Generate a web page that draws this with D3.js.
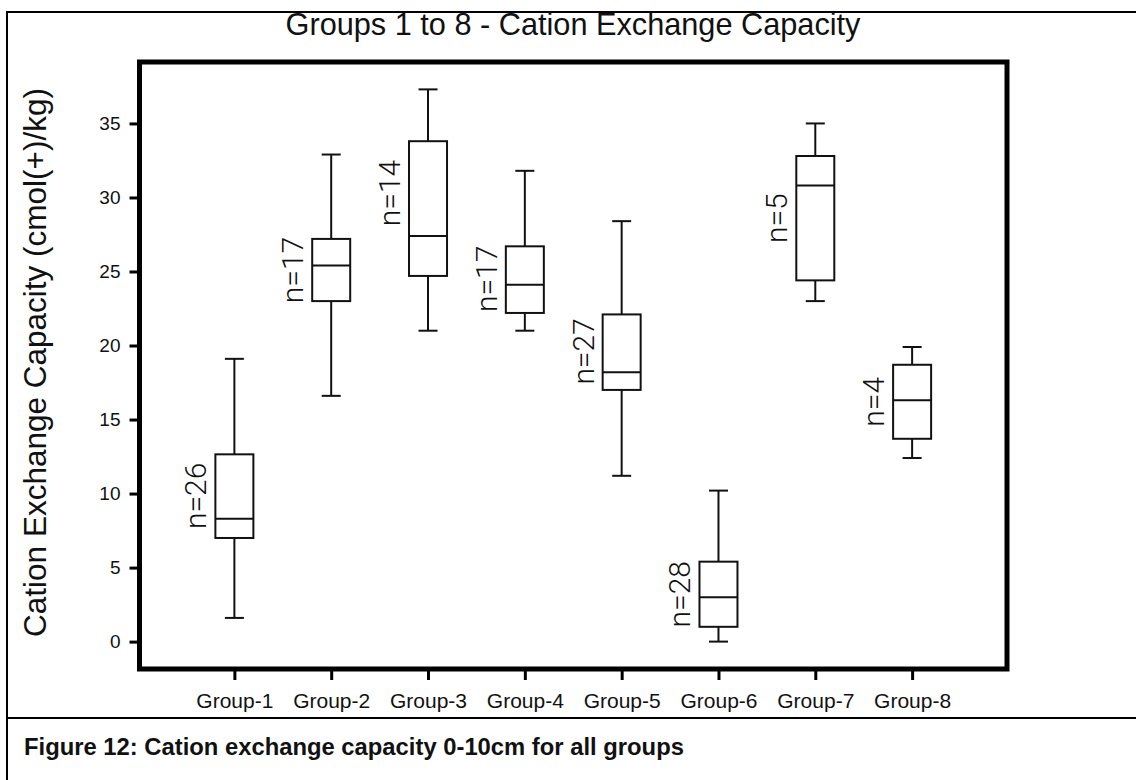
<!DOCTYPE html>
<html>
<head>
<meta charset="utf-8">
<script src="https://cdn.jsdelivr.net/npm/d3@7"></script>
<style>
  body { margin: 0; background: #fff; }
  svg text { font-family: "Liberation Sans", Arial, Helvetica, sans-serif; fill: #111; }
</style>
</head>
<body>
<script>
// data
const groups = ["Group-1", "Group-2", "Group-3", "Group-4", "Group-5", "Group-6", "Group-7", "Group-8"];
const whiskerLow = [1.6, 16.6, 21.0, 21.0, 11.2, 0.0, 23.0, 12.4];
const q1 = [7.0, 23.0, 24.7, 22.2, 17.0, 1.0, 24.4, 13.7];
const median = [8.3, 25.4, 27.4, 24.1, 18.2, 3.0, 30.8, 16.3];
const q3 = [12.65, 27.2, 33.8, 26.7, 22.1, 5.4, 32.8, 18.7];
const whiskerHigh = [19.1, 32.9, 37.3, 31.8, 28.4, 10.2, 35.0, 19.9];
const counts = [26, 17, 14, 17, 27, 28, 5, 4];
const countLabelAt = [9.85, 25.1, 30.3, 24.5, 19.6, 3.2, 28.6, 16.2];
const yTicks = [0, 5, 10, 15, 20, 25, 30, 35];

const W = 1136, H = 780;
const plot = { left: 139.5, right: 1007, top: 62, bottom: 669 };

const svg = d3.select("body").append("svg")
  .attr("width", W)
  .attr("height", H);

// outer figure borders
svg.append("line").attr("x1", 7).attr("x2", W).attr("y1", 12).attr("y2", 12)
  .attr("stroke", "#000").attr("stroke-width", 2);
svg.append("line").attr("x1", 7).attr("x2", 7).attr("y1", 11).attr("y2", H)
  .attr("stroke", "#000").attr("stroke-width", 2);
svg.append("line").attr("x1", 7).attr("x2", W).attr("y1", 718).attr("y2", 718)
  .attr("stroke", "#000").attr("stroke-width", 2);

const x = d3.scalePoint().domain(groups).range([plot.left, plot.right]).padding(0.98);
const y = d3.scaleLinear().domain([-1.85, 39.15]).range([plot.bottom, plot.top]);

// title
svg.append("text")
  .attr("x", 573)
  .attr("y", 35)
  .attr("text-anchor", "middle")
  .attr("font-size", 30.7)
  .text("Groups 1 to 8 - Cation Exchange Capacity");

// axes
const yAxis = svg.append("g")
  .attr("transform", `translate(${plot.left},0)`)
  .call(d3.axisLeft(y).tickValues(yTicks).tickSize(10).tickPadding(9));
yAxis.select(".domain").remove();
yAxis.selectAll(".tick line").attr("stroke", "#000").attr("stroke-width", 3);
yAxis.selectAll(".tick text").attr("font-size", 19).attr("fill", "#111");

const xAxis = svg.append("g")
  .attr("transform", `translate(0,${plot.bottom})`)
  .call(d3.axisBottom(x).tickSize(11).tickPadding(13));
xAxis.select(".domain").remove();
xAxis.selectAll(".tick line").attr("stroke", "#000").attr("stroke-width", 3);
xAxis.selectAll(".tick text").attr("font-size", 21).attr("fill", "#111");

// frame
svg.append("rect")
  .attr("x", plot.left)
  .attr("y", plot.top)
  .attr("width", plot.right - plot.left)
  .attr("height", plot.bottom - plot.top)
  .attr("fill", "none")
  .attr("stroke", "#000")
  .attr("stroke-width", 5);

// y label
svg.append("text")
  .attr("transform", `translate(46,${(plot.top + plot.bottom) / 2 - 3}) rotate(-90)`)
  .attr("text-anchor", "middle")
  .attr("font-size", 31.5)
  .text("Cation Exchange Capacity (cmol(+)/kg)");

// boxes
const boxW = 38, capW = 19;
const rows = groups.map((g, i) => ({
  g, lo: whiskerLow[i], q1: q1[i], med: median[i], q3: q3[i], hi: whiskerHigh[i],
  n: counts[i], labelAt: countLabelAt[i]
}));

const box = svg.selectAll(".box")
  .data(rows)
  .enter()
  .append("g")
  .attr("class", "box")
  .attr("stroke", "#111")
  .attr("stroke-width", 2)
  .attr("fill", "none");

box.append("line")
  .attr("x1", d => x(d.g)).attr("x2", d => x(d.g))
  .attr("y1", d => y(d.hi)).attr("y2", d => y(d.q3));
box.append("line")
  .attr("x1", d => x(d.g)).attr("x2", d => x(d.g))
  .attr("y1", d => y(d.q1)).attr("y2", d => y(d.lo));
box.append("line")
  .attr("x1", d => x(d.g) - capW / 2).attr("x2", d => x(d.g) + capW / 2)
  .attr("y1", d => y(d.hi)).attr("y2", d => y(d.hi));
box.append("line")
  .attr("x1", d => x(d.g) - capW / 2).attr("x2", d => x(d.g) + capW / 2)
  .attr("y1", d => y(d.lo)).attr("y2", d => y(d.lo));
box.append("rect")
  .attr("x", d => x(d.g) - boxW / 2)
  .attr("y", d => y(d.q3))
  .attr("width", boxW)
  .attr("height", d => y(d.q1) - y(d.q3))
  .attr("fill", "#fff");
box.append("line")
  .attr("x1", d => x(d.g) - boxW / 2).attr("x2", d => x(d.g) + boxW / 2)
  .attr("y1", d => y(d.med)).attr("y2", d => y(d.med));

// n= labels
svg.selectAll(".nlab")
  .data(rows)
  .enter()
  .append("text")
  .attr("class", "nlab")
  .attr("transform", d => `translate(${x(d.g) - 28},${y(d.labelAt)}) rotate(-90)`)
  .attr("text-anchor", "middle")
  .attr("font-size", 30)
  .style("font-family", "Roboto, 'Open Sans', sans-serif")
  .style("font-weight", 300)
  .text(d => `n=${d.n}`);

// caption
svg.append("text")
  .attr("x", 24)
  .attr("y", 755)
  .attr("font-size", 23.8)
  .attr("font-weight", "bold")
  .text("Figure 12: Cation exchange capacity 0-10cm for all groups");
</script>
</body>
</html>
